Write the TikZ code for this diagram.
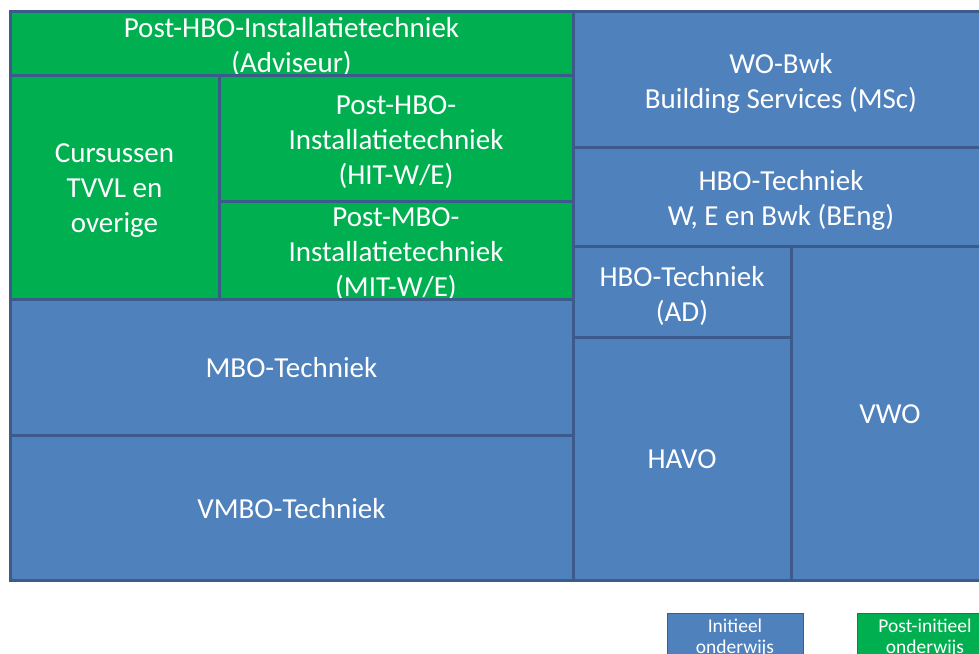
\documentclass[tikz,border=0pt]{standalone}
\usepackage{fontspec}
\setmainfont{Carlito}
\definecolor{initblue}{RGB}{79,129,189}
\definecolor{postgreen}{RGB}{0,176,80}
\definecolor{cellline}{RGB}{60,90,140}
\begin{document}
\begin{tikzpicture}
    [
  x=1pt, y=-1pt,
  celltext/.style={
    text=white,
    align=center,
    inner sep=0pt,
    yshift=-4pt,
    font=\fontsize{29}{35}\selectfont
  },
  onelinetext/.style={celltext, yshift=3pt},
  cell/.style={
    draw=cellline,
    line width=3pt,
    inner sep=0pt,
    outer sep=0pt
  },
  initcell/.style={cell, fill=initblue},
  postcell/.style={cell, fill=postgreen},
  legendbox/.style={
    draw=cellline,
    line width=0.8pt,
    text=white,
    align=center,
    inner sep=0pt,
    minimum width=136pt,
    minimum height=50pt,
    font=\fontsize{19.5}{21.5}\selectfont
  }
  ]
  \useasboundingbox (0,0) rectangle (979,653);
  \clip (0,0) rectangle (979,653);
  % post-initieel blocks
  \node (adv) at (291.5,43) [postcell, minimum width=563pt, minimum height=64pt,
    label={[celltext]center:Post-HBO-Installatietechniek\\(Adviseur)}] {};
  \node (tvvl) at (114.5,187) [postcell, minimum width=209pt, minimum height=224pt,
    label={[celltext]center:Cursussen\\TVVL en\\overige}] {};
  \node (hit) at (396,138) [postcell, minimum width=354pt, minimum height=126pt,
    label={[celltext]center:Post-HBO-\\Installatietechniek\\(HIT-W/E)}] {};
  \node (mit) at (396,250) [postcell, minimum width=354pt, minimum height=98pt,
    label={[celltext]center:Post-MBO-\\Installatietechniek\\(MIT-W/E)}] {};
  % initieel blocks
  \node (mbo) at (291.5,367) [initcell, minimum width=563pt, minimum height=136pt,
    label={[onelinetext]center:MBO-Techniek}] {};
  \node (vmbo) at (291.5,507.5) [initcell, minimum width=563pt, minimum height=145pt,
    label={[onelinetext]center:VMBO-Techniek}] {};
  \node (wo) at (781,79) [initcell, minimum width=416pt, minimum height=136pt,
    label={[celltext]center:WO-Bwk\\Building Services (MSc)}] {};
  \node (hbo) at (781,196.75) [initcell, minimum width=416pt, minimum height=99.5pt,
    label={[celltext]center:HBO-Techniek\\W, E en Bwk (BEng)}] {};
  \node (ad) at (682,291.75) [initcell, minimum width=218pt, minimum height=90.5pt,
    label={[celltext]center:HBO-Techniek\\(AD)}] {};
  \node (havo) at (682,458.5) [initcell, minimum width=218pt, minimum height=243pt,
    label={[onelinetext]center:HAVO}] {};
  \node (vwo) at (890,413.25) [initcell, minimum width=198pt, minimum height=333.5pt,
    label={[onelinetext]center:VWO}] {};
  % legend
  \node (leginit) at (735,638) [legendbox, fill=initblue] {Initieel\\onderwijs};
  \node (legpost) at (925,638) [legendbox, fill=postgreen] {Post-initieel\\onderwijs};
\end{tikzpicture}
\end{document}
